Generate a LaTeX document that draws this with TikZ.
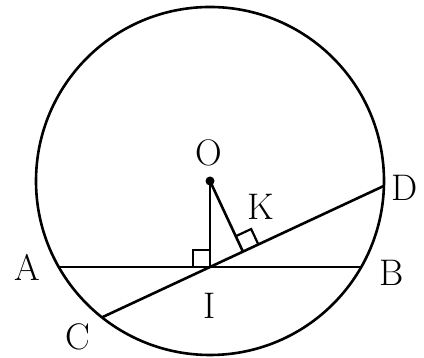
\documentclass[tikz,border=0pt]{standalone}
\usetikzlibrary{calc}
\begin{document}
\begin{tikzpicture}[x=1pt,y=1pt,line width=2.6pt,
  lbl/.style={font=\fontsize{37}{37}\selectfont, inner sep=0pt}]
\useasboundingbox (0,0) rectangle (424,358);
\coordinate (O) at (210,177);
\coordinate (I) at (210,91);
\coordinate (A) at (58.7,91);
\coordinate (B) at (361.3,91);
\coordinate (D) at ($(I)+(25:191.9)$);
\coordinate (C) at ($(I)+(205:119.2)$);
\coordinate (K) at ($(I)+(25:36.35)$);
\draw (O) circle (174);
\draw (A) -- (B);
\draw (C) -- (D);
\draw (O) -- (I);
\draw (O) -- (K);
\fill (O) circle (4.5);
% right angle marks
\draw[line width=2.2pt] ($(I)+(-17,0)$) |- ($(I)+(0,17)$);
\draw[line width=2.2pt] ($(K)+(25:17)$) -- ++(115:17) -- ($(K)+(115:17)$);
% labels
\node[lbl] (lO) at (209,205) {O};
\node[lbl] (lK) at (261,151) {K};
\node[lbl] (lD) at (405,170) {D};
\node[lbl] (lA) at (27,91) {A};
\node[lbl] (lB) at (392,85) {B};
\node[lbl] (lC) at (78,21) {C};
\node[lbl] (lI) at (210,52) {I};
\end{tikzpicture}
\end{document}
